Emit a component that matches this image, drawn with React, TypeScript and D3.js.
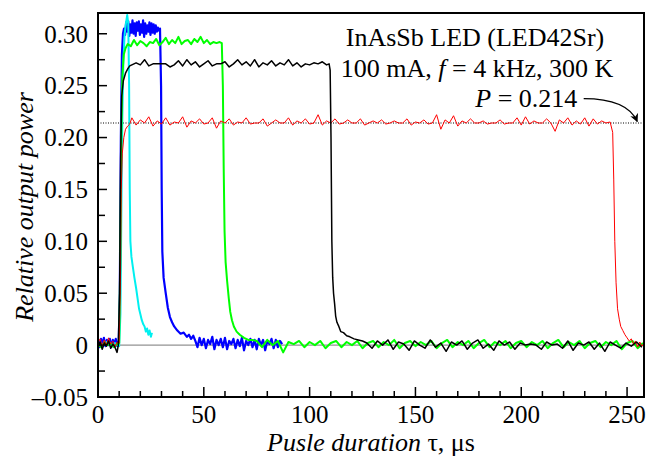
import React from "react";
import * as d3 from "d3";

// time in µs, relative output power
const blue: [number, number][] = [
  [0, 0.004], [0.7, -0.002], [1.4, 0.006], [2.1, 0.001], [2.8, 0.007], [3.5, -0.001], [4.2, 0.005],
  [4.9, 0.0], [5.6, 0.006], [6.3, -0.002], [7, 0.005], [7.7, 0.001], [8.4, 0.006], [9.1, -0.001], [9.8, 0.004],
  [10.3, 0.05], [10.8, 0.2], [11.3, 0.28], [11.8, 0.3],
  [12.3, 0.305], [12.8, 0.299], [13.3, 0.311], [13.8, 0.302], [14.3, 0.312], [14.8, 0.298], [15.3, 0.309],
  [15.8, 0.301], [16.3, 0.313], [16.8, 0.3], [17.3, 0.31], [17.8, 0.298], [18.3, 0.311], [18.8, 0.303],
  [19.3, 0.312], [19.8, 0.299], [20.3, 0.309], [20.8, 0.301], [21.3, 0.313], [21.8, 0.297], [22.3, 0.31],
  [22.8, 0.3], [23.3, 0.308], [23.8, 0.302], [24.3, 0.311], [24.8, 0.299], [25.3, 0.31], [25.8, 0.301],
  [26.3, 0.309], [26.8, 0.3], [27.3, 0.308], [27.8, 0.302], [28.3, 0.306], [28.8, 0.303], [29.3, 0.305],
  [29.8, 0.25], [30.1, 0.15], [30.4, 0.09], [31, 0.065], [32, 0.05], [33, 0.036], [34, 0.027], [35, 0.022],
  [36, 0.018], [37.5, 0.014], [39, 0.011], [40.5, 0.012], [42, 0.008], [43, 0.01], [44, 0.006], [45, 0.009],
  [46, 0.004], [47, -0.002], [48, 0.007], [49, 0.0], [50, 0.006], [51, -0.003], [52, 0.005], [53, 0.001],
  [54, 0.008], [55, -0.004], [56, 0.005], [57, 0.0], [58, 0.006], [59, -0.002], [60, 0.007], [61, -0.004],
  [62, 0.004], [63, 0.001], [64, 0.006], [65, -0.003], [66, 0.005], [67, -0.001], [68, 0.007], [69, -0.005],
  [70, 0.004], [71, 0.0], [72, 0.006], [73, -0.002], [74, 0.005], [75, -0.004], [76, 0.006], [77, 0.0],
  [78, 0.005], [79, -0.005], [80, 0.004], [81, 0.001], [82, 0.006], [83, -0.003], [84, 0.005], [85, -0.002],
  [86, 0.004], [87, 0.001],
];

const cyan: [number, number][] = [
  [0, 0.002], [2, -0.002], [4, 0.003], [6, 0.0], [8, 0.002], [10, -0.001], [10.6, 0.03],
  [11, 0.12], [11.5, 0.22], [12, 0.275], [12.6, 0.3], [13.2, 0.31], [13.8, 0.318], [14.3, 0.31],
  [14.7, 0.25], [15, 0.15], [15.3, 0.1], [15.8, 0.085], [16.5, 0.075], [17.2, 0.065], [18, 0.055],
  [18.7, 0.045], [19.4, 0.035], [20, 0.03], [20.7, 0.024], [21.4, 0.02], [22, 0.018], [22.6, 0.013],
  [23.2, 0.016], [23.8, 0.01], [24.4, 0.014], [25, 0.008], [25.5, 0.012],
];

const green: [number, number][] = [
  [0, 0.001], [1.5, -0.002], [3, 0.003], [4.5, 0.0], [6, 0.002], [7.5, -0.002], [9, 0.001], [10, 0.002],
  [10.5, 0.08], [11, 0.2], [11.5, 0.26], [12.2, 0.28], [13, 0.286],
  [14, 0.29], [15.5, 0.288], [17, 0.294], [18.5, 0.289], [20, 0.293], [21.5, 0.291], [23, 0.288],
  [24.5, 0.292], [26, 0.291], [27.5, 0.295], [29, 0.289], [30.5, 0.292], [32, 0.296], [33.5, 0.29],
  [35, 0.294], [36.5, 0.291], [38, 0.297], [39.5, 0.29], [41, 0.293], [42.5, 0.294], [44, 0.29],
  [45.5, 0.295], [47, 0.292], [48.5, 0.297], [50, 0.291], [51.5, 0.294], [53, 0.29], [54.5, 0.292],
  [56, 0.291], [57.5, 0.292], [58.5, 0.291],
  [59, 0.25], [59.4, 0.17], [59.8, 0.11], [60.3, 0.08], [61, 0.062], [61.8, 0.045], [62.5, 0.032],
  [63.3, 0.024], [64.2, 0.018], [65.5, 0.013], [67, 0.01], [69, 0.007], [71, 0.005], [73, 0.005],
  [75, 0.004], [77.5, -0.002], [80, 0.005], [82.5, 0.0], [85, 0.004], [87.5, -0.007], [90, 0.003],
  [92.5, 0.001], [95, 0.004], [97.5, -0.002], [100, 0.003], [102.5, 0.0], [105, 0.004], [107.5, -0.003],
  [110, 0.002], [112.5, 0.004], [115, -0.002], [117.5, 0.003], [120, 0.0], [122.5, 0.004], [125, -0.003],
  [127.5, 0.002], [130, 0.004], [132.5, -0.002], [135, 0.003], [137.5, 0.0], [140, 0.005], [142.5, -0.003],
  [145, 0.002], [147.5, 0.004], [150, -0.001], [152.5, 0.003], [155, 0.0], [157.5, 0.004], [160, -0.003],
  [162.5, 0.002], [165, 0.005], [167.5, -0.002], [170, 0.003], [172.5, 0.0], [175, 0.004], [177.5, -0.003],
  [180, 0.002], [182.5, 0.005], [185, -0.002], [187.5, 0.003], [190, 0.0], [192.5, 0.004], [195, -0.003],
  [197.5, 0.002], [200, 0.004], [202.5, -0.002], [205, 0.003], [207.5, 0.0], [210, 0.004], [212.5, -0.003],
  [215, 0.002], [217.5, 0.005], [220, -0.002], [222.5, 0.003], [225, 0.0], [227.5, 0.004], [230, -0.003],
  [232.5, 0.002], [235, 0.004], [237.5, -0.002], [240, 0.003], [242.5, 0.0], [245, 0.004], [247.5, -0.004],
  [250, 0.002], [252.5, 0.004], [255, -0.003], [257.5, 0.002],
];

const red: [number, number][] = [
  [0, 0.002], [1, 0.006], [2, -0.001], [3, 0.005], [4, 0.0], [5, 0.007], [6, 0.001], [7, 0.004],
  [8, -0.002], [9, 0.003], [10, 0.002],
  [10.6, 0.06], [11, 0.15], [11.5, 0.185], [12.2, 0.2], [13, 0.208], [14, 0.211], [15, 0.213],
  [16, 0.219], [18, 0.212], [20, 0.217], [22, 0.214], [24, 0.22], [26, 0.211], [28, 0.216], [30, 0.213],
  [32, 0.219], [34, 0.212], [36, 0.215], [38, 0.214], [40, 0.22], [42, 0.21], [44, 0.216], [46, 0.214],
  [48, 0.218], [50, 0.213], [52, 0.214], [54, 0.219], [56, 0.209], [58, 0.216], [60, 0.214], [62, 0.218],
  [64, 0.212], [66, 0.215], [68, 0.214], [70, 0.219], [72, 0.213], [74, 0.214], [76, 0.214], [78, 0.218],
  [80, 0.211], [82, 0.214], [84, 0.217], [86, 0.214], [88, 0.214], [90, 0.219], [92, 0.212], [94, 0.216],
  [96, 0.214], [98, 0.218], [100, 0.213], [102, 0.214], [104, 0.222], [106, 0.212], [108, 0.216],
  [110, 0.214], [112, 0.218], [114, 0.213], [116, 0.214], [118, 0.217], [120, 0.214], [122, 0.214],
  [124, 0.218], [126, 0.212], [128, 0.214], [130, 0.216], [132, 0.214], [134, 0.217], [136, 0.213],
  [138, 0.214], [140, 0.216], [142, 0.214], [144, 0.214], [146, 0.218], [148, 0.212], [150, 0.215],
  [152, 0.214], [154, 0.217], [156, 0.213], [158, 0.214], [160, 0.222], [162, 0.208], [164, 0.217],
  [166, 0.214], [168, 0.221], [170, 0.211], [172, 0.216], [174, 0.214], [176, 0.218], [178, 0.214],
  [180, 0.214], [182, 0.216], [184, 0.213], [186, 0.214], [188, 0.214], [190, 0.217], [192, 0.213],
  [194, 0.214], [196, 0.214], [198, 0.219], [200, 0.212], [202, 0.22], [204, 0.213], [206, 0.216],
  [208, 0.214], [210, 0.214], [212, 0.218], [214, 0.214], [216, 0.206], [218, 0.217], [220, 0.214],
  [222, 0.219], [224, 0.212], [226, 0.216], [228, 0.213], [230, 0.219], [232, 0.211], [234, 0.218],
  [236, 0.213], [238, 0.216], [240, 0.214], [242, 0.215],
  [243.2, 0.205], [243.7, 0.16], [244.2, 0.1], [244.8, 0.06], [245.5, 0.035], [246.3, 0.025], [247, 0.018],
  [248, 0.014], [249, 0.01], [250, 0.007], [251, 0.004], [252, 0.006], [253, 0.001], [254, 0.004],
  [255, -0.002], [256, 0.003], [257, -0.001], [258, 0.002],
];

const black: [number, number][] = [
  [0, -0.002], [1, 0.003], [2, -0.004], [3, 0.002], [4, -0.001], [5, 0.004], [6, -0.003], [7, 0.001],
  [8, -0.002], [9, -0.007], [9.6, 0.0],
  [10.2, 0.05], [10.7, 0.18], [11.2, 0.24], [12, 0.255], [13, 0.262], [14, 0.266], [15, 0.269], [16, 0.27],
  [18, 0.272], [20, 0.27], [22, 0.275], [24, 0.269], [26, 0.271], [28, 0.271], [30, 0.271], [32, 0.271],
  [34, 0.268], [36, 0.27], [38, 0.274], [40, 0.269], [42, 0.275], [44, 0.27], [46, 0.273], [48, 0.268],
  [50, 0.271], [52, 0.274], [54, 0.269], [56, 0.271], [58, 0.271], [60, 0.273], [62, 0.268], [64, 0.271],
  [66, 0.275], [68, 0.27], [70, 0.273], [72, 0.269], [74, 0.275], [76, 0.268], [78, 0.272], [80, 0.27],
  [82, 0.274], [84, 0.269], [86, 0.272], [88, 0.27], [90, 0.275], [92, 0.269], [94, 0.272], [96, 0.268],
  [98, 0.271], [100, 0.27], [102, 0.272], [104, 0.271], [106, 0.273], [108, 0.27], [109.2, 0.271],
  [109.7, 0.265], [110.1, 0.2], [110.5, 0.1], [110.9, 0.065], [111.3, 0.05], [111.8, 0.04], [112.3, 0.028],
  [112.9, 0.022], [113.8, 0.018], [114.7, 0.013], [116, 0.012], [117.5, 0.009], [119, 0.008], [121, 0.006],
  [123, 0.005], [125, 0.004],
  [127, 0.002], [129.5, -0.003], [132, 0.004], [134.5, 0.0], [137, 0.005], [139.5, -0.004], [142, 0.003],
  [144.5, 0.001], [147, -0.005], [149.5, 0.004], [152, 0.0], [154.5, -0.003], [157, 0.005], [159.5, -0.002],
  [162, 0.002], [164.5, -0.006], [167, 0.003], [169.5, 0.0], [172, 0.004], [174.5, -0.004], [177, 0.002],
  [179.5, 0.005], [182, -0.003], [184.5, 0.001], [187, -0.005], [189.5, 0.004], [192, 0.0], [194.5, 0.003],
  [197, -0.004], [199.5, 0.002], [202, 0.0], [204.5, 0.001], [207, 0.0], [209.5, -0.004], [212, 0.003],
  [214.5, 0.0], [217, 0.001], [219.5, -0.003], [222, 0.004], [224.5, -0.005], [227, 0.002], [229.5, 0.0],
  [232, 0.003], [234.5, -0.004], [237, 0.002], [239.5, -0.006], [242, 0.003], [244.5, 0.0], [247, -0.003],
  [249.5, 0.002], [252, -0.001], [254.5, 0.003], [257, -0.002],
];

const xMajorTicks = [0, 50, 100, 150, 200, 250];
const yMajorTicks = [-0.05, 0, 0.05, 0.1, 0.15, 0.2, 0.25, 0.3];
const yTickLabels = ["\u20130.05", "0", "0.05", "0.10", "0.15", "0.20", "0.25", "0.30"];
const steadyPower = 0.214;

const W = 647;
const H = 459;
const margin = { top: 13, right: 3, bottom: 62, left: 98 };
const font = "'Liberation Serif', 'DejaVu Serif', 'Times New Roman', serif";

export default function App() {
  const x = d3.scaleLinear().domain([0, 258]).range([margin.left, W - margin.right]);
  const y = d3.scaleLinear().domain([-0.05, 0.32]).range([H - margin.bottom, margin.top]);
  const line = d3
    .line<[number, number]>()
    .x((d) => x(d[0]))
    .y((d) => y(d[1]));

  const xMinor = d3.range(0, 258, 10).filter((t) => t % 50 !== 0);
  const yMinor = d3.range(-0.025, 0.32, 0.05);

  const series = [
    { data: blue, color: "#0000ff", w: 2.2 },
    { data: cyan, color: "#00f0f0", w: 2 },
    { data: green, color: "#00ff00", w: 2 },
    { data: red, color: "#ff0000", w: 1 },
    { data: black, color: "#000000", w: 1.5 },
  ];

  const bottom = H - margin.bottom;
  const left = margin.left;

  // arrow from the P label down to the dotted level
  const arrow = d3.path();
  arrow.moveTo(x(229.5), y(0.2375));
  arrow.quadraticCurveTo(x(250), y(0.2375), x(254.8), y(0.2155));

  return (
    <svg width={W} height={H} style={{ position: "absolute", left: 0, top: 0, fontFamily: font }}>
      <defs>
        <clipPath id="plot">
          <rect x={left} y={margin.top} width={W - margin.right - left} height={bottom - margin.top} />
        </clipPath>
        <marker id="head" viewBox="0 0 10 10" refX="9" refY="5" markerWidth="7" markerHeight="7" orient="auto">
          <path d="M0,0 L10,5 L0,10 L3,5 Z" fill="#000" />
        </marker>
      </defs>

      <line x1={left} x2={W - margin.right} y1={y(0)} y2={y(0)} stroke="#777" strokeWidth={1} />
      <line
        x1={left}
        x2={W - margin.right}
        y1={y(steadyPower)}
        y2={y(steadyPower)}
        stroke="#000"
        strokeWidth={1}
        strokeDasharray="1,1.5"
      />

      <g clipPath="url(#plot)">
        {series.map((s, i) => (
          <path key={i} d={line(s.data) || ""} fill="none" stroke={s.color} strokeWidth={s.w} strokeLinejoin="round" />
        ))}
      </g>

      {/* ticks */}
      {xMajorTicks.map((t) => (
        <g key={"xm" + t}>
          <line x1={x(t)} x2={x(t)} y1={bottom} y2={bottom - 10} stroke="#000" strokeWidth={1.5} />
          <text x={x(t)} y={bottom + 26} textAnchor="middle" fontSize={25}>
            {t}
          </text>
        </g>
      ))}
      {xMinor.map((t) => (
        <line key={"xn" + t} x1={x(t)} x2={x(t)} y1={bottom} y2={bottom - 6} stroke="#000" strokeWidth={1.5} />
      ))}
      {yMajorTicks.map((v, i) => (
        <g key={"ym" + v}>
          <line x1={left} x2={left + 9} y1={y(v)} y2={y(v)} stroke="#000" strokeWidth={1.5} />
          <text x={left - 10} y={y(v)} dy="0.35em" textAnchor="end" fontSize={25}>
            {yTickLabels[i]}
          </text>
        </g>
      ))}
      {yMinor.map((v) => (
        <line key={"yn" + v} x1={left} x2={left + 7} y1={y(v)} y2={y(v)} stroke="#000" strokeWidth={1.5} />
      ))}

      <rect
        x={left}
        y={margin.top}
        width={W - margin.right - left}
        height={bottom - margin.top}
        fill="none"
        stroke="#000"
        strokeWidth={2}
      />

      {/* annotations */}
      <text x={475} y={46} textAnchor="middle" fontSize={26}>
        InAsSb LED (LED42Sr)
      </text>
      <text x={477} y={77} textAnchor="middle" fontSize={26}>
        100 mA, <tspan fontStyle="italic">f</tspan> = 4 kHz, 300 K
      </text>
      <text x={x(226.5)} y={107} textAnchor="end" fontSize={26}>
        <tspan fontStyle="italic">P</tspan> = 0.214
      </text>
      <path d={arrow.toString()} fill="none" stroke="#000" strokeWidth={1.2} markerEnd="url(#head)" />

      {/* axis titles */}
      <text x={(left + W - margin.right) / 2} y={451} textAnchor="middle" fontSize={26} fontStyle="italic">
        Pusle duration <tspan fontStyle="normal">τ, μs</tspan>
      </text>
      <text
        transform={`translate(33, ${(margin.top + bottom) / 2 + 2}) rotate(-90)`}
        textAnchor="middle"
        fontSize={26}
        fontStyle="italic"
      >
        Relative output power
      </text>
    </svg>
  );
}
